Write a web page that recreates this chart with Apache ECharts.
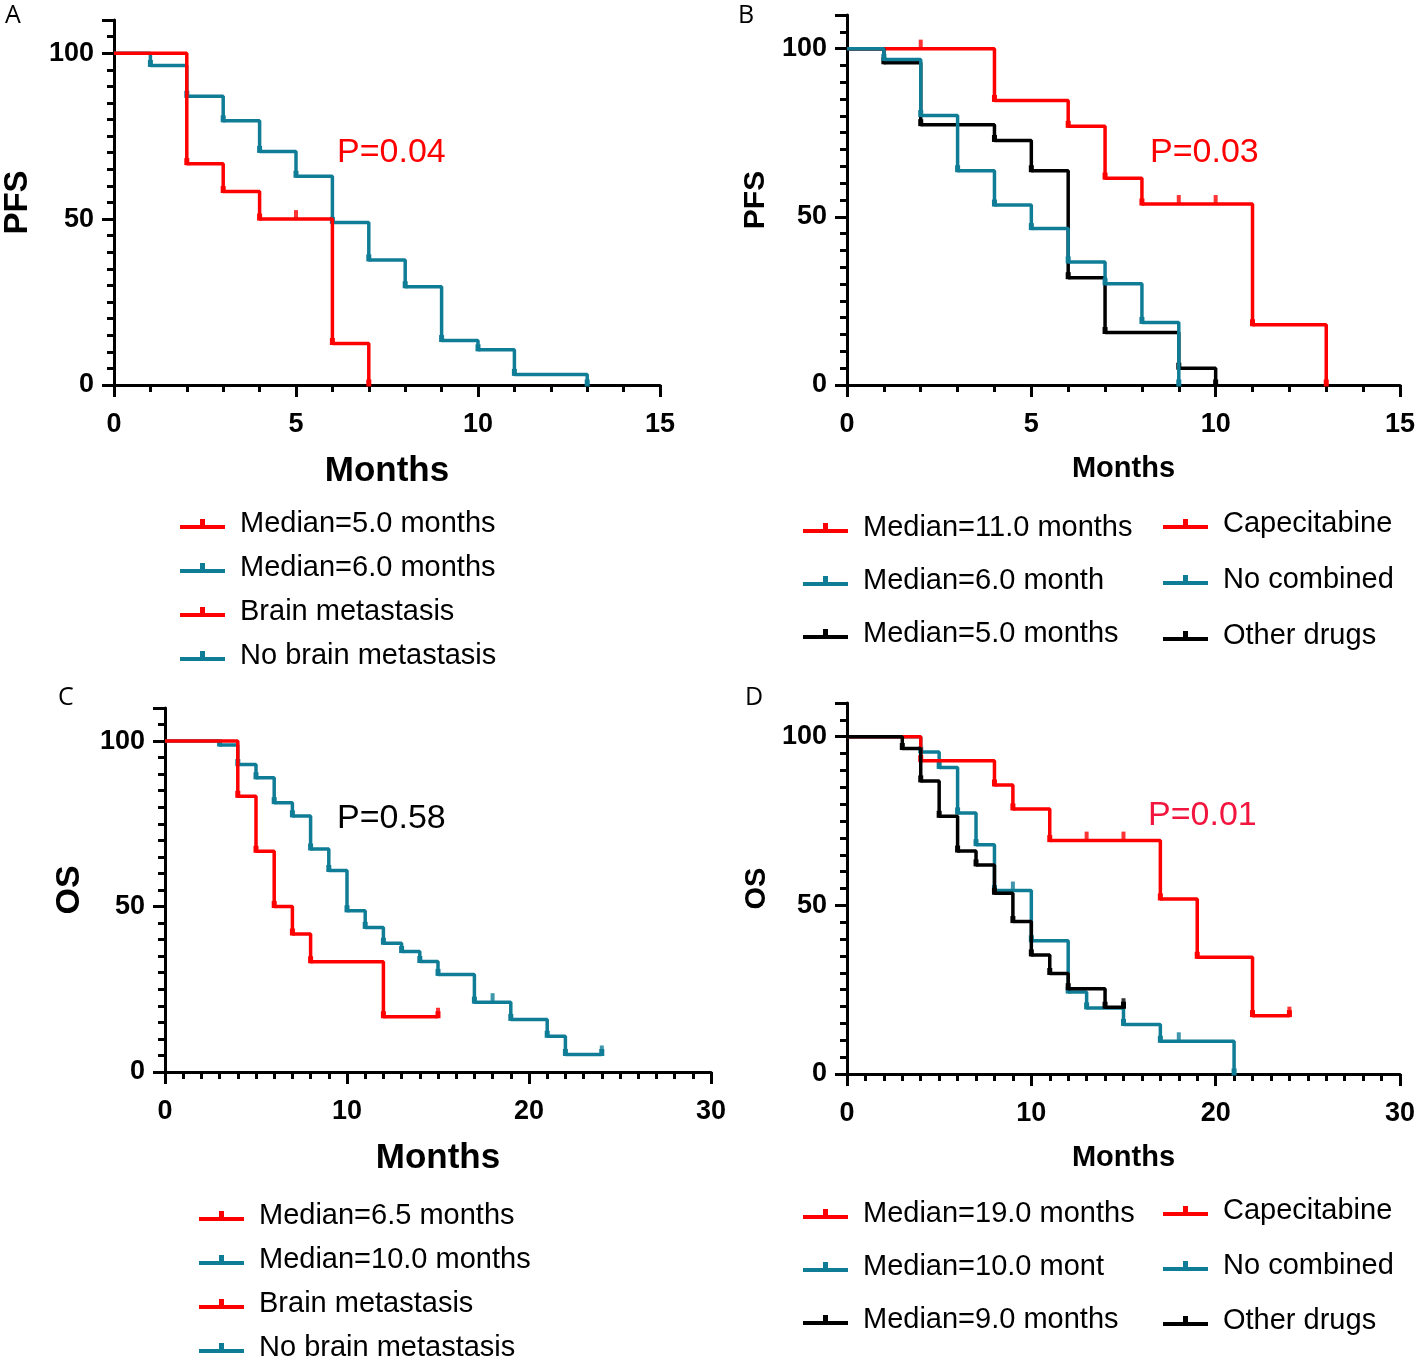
<!DOCTYPE html>
<html>
<head>
<meta charset="utf-8">
<title>PFS / OS</title>
<script src="https://cdn.jsdelivr.net/npm/echarts@6.0.0/dist/echarts.min.js"></script>
<style>
  html, body { margin: 0; padding: 0; background: #fff; }
  #main { width: 1418px; height: 1360px; }
</style>
</head>
<body>
<div id="main"></div>
<script type="text/javascript">
// ---- data: [month, percent surviving] at each step, censored marks separately ----
// A: PFS by brain metastasis
var pfsBrain = [[0, 100], [2, 66.7], [3, 58.3], [4, 50], [6, 12.5], [7, 0]];
var pfsBrainCens = [[5, 50]];
var pfsNoBrain = [[0, 100], [1, 96.3], [2, 87], [3, 79.6], [4, 70.4], [5, 62.9], [6, 49], [7, 37.7], [8, 29.6], [9, 13.4], [10, 10.6], [11, 3.2], [13, 0]];
// B: PFS by combined drug
var pfsCape = [[0, 100], [4, 84.6], [6, 76.9], [7, 61.5], [8, 53.8], [11, 17.9], [13, 0]];
var pfsCapeCens = [[2, 100], [9, 53.8], [10, 53.8]];
var pfsNoComb = [[0, 100], [1, 96.8], [2, 80.1], [3, 63.7], [4, 53.5], [5, 46.5], [6, 36.6], [7, 30.1], [8, 18.6], [9, 0]];
var pfsOther = [[0, 100], [1, 95.8], [2, 77.4], [4, 72.7], [5, 63.7], [6, 31.9], [7, 15.6], [9, 5], [10, 0]];
// C: OS by brain metastasis
var osBrain = [[0, 100], [4, 83.3], [5, 66.7], [6, 50], [7, 41.7], [8, 33.3], [12, 16.7], [15, 16.7]];
var osBrainCens = [[15, 16.7]];
var osNoBrain = [[0, 100], [3, 98.8], [4, 92.9], [5, 88.9], [6, 81.4], [7, 77.4], [8, 67.4], [9, 60.9], [10, 48.7], [11, 43.7], [12, 38.9], [13, 36.4], [14, 33.4], [15, 29.5], [17, 21.1], [19, 15.9], [21, 10.8], [22, 5.3], [24, 5.3]];
var osNoBrainCens = [[18, 21.1], [24, 5.3]];
// D: OS by combined drug
var osCape = [[0, 100], [4, 92.9], [8, 85.7], [9, 78.6], [11, 69.2], [17, 51.9], [19, 34.6], [22, 17.3], [24, 17.3]];
var osCapeCens = [[13, 69.2], [15, 69.2], [24, 17.3]];
var osNoComb = [[0, 100], [4, 95.5], [5, 90.9], [6, 77.4], [7, 68], [8, 54.4], [10, 39.5], [12, 24.3], [13, 19.6], [15, 14.7], [17, 9.7], [21, 0]];
var osNoCombCens = [[9, 54.4], [18, 9.7]];
var osOther = [[0, 100], [3, 96.5], [4, 86.9], [5, 76.4], [6, 66.1], [7, 62], [8, 53.6], [9, 45.2], [10, 35.3], [11, 29.8], [12, 25.3], [14, 19.8], [15, 19.8]];
var osOtherCens = [[15, 19.8]];

var pValues = ['P=0.04', 'P=0.03', 'P=0.58', 'P=0.01'];
var legendA = ['Median=5.0 months', 'Median=6.0 months', 'Brain metastasis', 'No brain metastasis'];
var legendB1 = ['Median=11.0 months', 'Median=6.0 month', 'Median=5.0 months'];
var legendB2 = ['Capecitabine', 'No combined', 'Other drugs'];
var legendC = ['Median=6.5 months', 'Median=10.0 months', 'Brain metastasis', 'No brain metastasis'];
var legendD1 = ['Median=19.0 months', 'Median=10.0 mont', 'Median=9.0 months'];
var legendD2 = ['Capecitabine', 'No combined', 'Other drugs'];

var RED = '#ff0000', TEAL = '#107d97', BLACK = '#000000';
var FONT = '"Liberation Sans", Arial, sans-serif';

var myChart = echarts.init(document.getElementById('main'));

function xAxis(gi, max, interval, minor, nameSize) {
    return {
        gridIndex: gi, type: 'value', min: 0, max: max, interval: interval,
        name: 'Months', nameLocation: 'middle', nameGap: 69,
        nameTextStyle: { fontFamily: FONT, fontWeight: 'bold', fontSize: nameSize, color: '#000' },
        axisLine: { lineStyle: { color: '#000', width: 3 } },
        axisTick: { length: 12, lineStyle: { width: 3, color: '#000' } },
        minorTick: { show: true, splitNumber: minor, length: 7, lineStyle: { width: 3, color: '#000' } },
        splitLine: { show: false },
        axisLabel: { margin: 26, fontFamily: FONT, fontWeight: 'bold', fontSize: 27, color: '#000' }
    };
}

function yAxis(gi, name, nameSize, gap) {
    return {
        gridIndex: gi, type: 'value', min: 0, max: 110, interval: 50,
        name: name, nameLocation: 'middle', nameRotate: 90, nameGap: gap,
        nameTextStyle: { fontFamily: FONT, fontWeight: 'bold', fontSize: nameSize, color: '#000' },
        axisLine: { show: true, lineStyle: { color: '#000', width: 3 } },
        axisTick: { show: true, length: 12, lineStyle: { width: 3, color: '#000' } },
        minorTick: { show: true, splitNumber: 10, length: 7, lineStyle: { width: 3, color: '#000' } },
        splitLine: { show: false },
        axisLabel: { margin: 20, showMaxLabel: false, fontFamily: FONT, fontWeight: 'bold', fontSize: 27, color: '#000' }
    };
}

function curve(gi, name, data, color, z) {
    return {
        type: 'line', name: name, xAxisIndex: gi, yAxisIndex: gi, step: 'end', data: data,
        symbol: function (v, p) { return p.dataIndex === 0 ? 'none' : 'rect'; },
        symbolSize: [5, 7], symbolOffset: [0, -2],
        lineStyle: { color: color, width: 3.5 }, itemStyle: { color: color },
        z: z, silent: true
    };
}

function censor(gi, data, color, z) {
    return {
        type: 'scatter', name: 'censored', xAxisIndex: gi, yAxisIndex: gi, data: data,
        symbol: 'rect', symbolSize: [4, 10], symbolOffset: [0, -4],
        itemStyle: { color: color }, z: z, silent: true
    };
}

function dummy(gi, name, color) {
    return { type: 'line', name: name, xAxisIndex: gi, yAxisIndex: gi, data: [], itemStyle: { color: color }, lineStyle: { color: color } };
}

var ICON = 'path://M0,6L45,6L45,10L0,10Z M20,0L25,0L25,6L20,6Z';

function legend(names, colors, left, top, gap) {
    return {
        orient: 'vertical', left: left - 5, top: top, height: 200, itemGap: gap, selectedMode: false,
        icon: ICON, itemWidth: 45, itemHeight: 10,
        textStyle: { fontFamily: FONT, fontSize: 29, color: '#000', lineHeight: 30, padding: [0, 0, 0, 10] },
        data: names.map(function (n, i) { return { name: n, itemStyle: { color: colors[i] } }; })
    };
}

function label(text, x, y, size, color, family) {
    return {
        type: 'text', x: x, y: y,
        style: { text: text, fill: color, font: size + 'px ' + (family || FONT), verticalAlign: 'middle' }
    };
}

var option = {
    animation: false,
    backgroundColor: '#fff',
    grid: [
        { left: 111, top: 20, width: 549, height: 365 },
        { left: 847, top: 15, width: 554, height: 370 },
        { left: 165, top: 708, width: 546, height: 364 },
        { left: 847, top: 703, width: 554, height: 371 }
    ],
    xAxis: [
        xAxis(0, 15, 5, 5, 35),
        xAxis(1, 15, 5, 5, 29),
        xAxis(2, 30, 10, 10, 35),
        xAxis(3, 30, 10, 10, 29)
    ],
    yAxis: [
        yAxis(0, 'PFS', 33, 80),
        yAxis(1, 'PFS', 30, 76),
        yAxis(2, 'OS', 34, 78),
        yAxis(3, 'OS', 29, 76)
    ],
    legend: [
        legend(legendA, [RED, TEAL, RED, TEAL], 180, 504, 14),
        legend(legendB1, [RED, TEAL, BLACK], 803, 508, 23),
        legend(legendB2, [RED, TEAL, BLACK], 1163, 504, 26),
        legend(legendC, [RED, TEAL, RED, TEAL], 199, 1196, 14),
        legend(legendD1, [RED, TEAL, BLACK], 803, 1194, 23),
        legend(legendD2, [RED, TEAL, BLACK], 1163, 1191, 25)
    ],
    graphic: [
        label('A', 5, 16, 25, '#000', '"Open Sans", sans-serif'),
        label('B', 738, 16, 25, '#000', '"Open Sans", sans-serif'),
        label('C', 58, 698, 25, '#000', '"Open Sans", sans-serif'),
        label('D', 745, 698, 25, '#000', '"Open Sans", sans-serif'),
        label(pValues[0], 337, 153, 34, RED),
        label(pValues[1], 1150, 153, 34, RED),
        label(pValues[2], 337, 819, 34, '#000'),
        label(pValues[3], 1148, 816, 34, '#f2163e')
    ],
    series: [
        // A
        curve(0, 'No brain metastasis', pfsNoBrain, TEAL, 2),
        curve(0, 'Brain metastasis', pfsBrain, RED, 3),
        censor(0, pfsBrainCens, RED, 3),
        dummy(0, 'Median=5.0 months', RED),
        dummy(0, 'Median=6.0 months', TEAL),
        // B
        curve(1, 'Capecitabine', pfsCape, RED, 2),
        censor(1, pfsCapeCens, RED, 2),
        curve(1, 'Other drugs', pfsOther, BLACK, 3),
        curve(1, 'No combined', pfsNoComb, TEAL, 4),
        dummy(1, 'Median=11.0 months', RED),
        dummy(1, 'Median=6.0 month', TEAL),
        // C
        curve(2, 'No brain metastasis', osNoBrain, TEAL, 2),
        censor(2, osNoBrainCens, TEAL, 2),
        curve(2, 'Brain metastasis', osBrain, RED, 3),
        censor(2, osBrainCens, RED, 3),
        dummy(2, 'Median=6.5 months', RED),
        dummy(2, 'Median=10.0 months', TEAL),
        // D
        curve(3, 'No combined', osNoComb, TEAL, 2),
        censor(3, osNoCombCens, TEAL, 2),
        curve(3, 'Capecitabine', osCape, RED, 3),
        censor(3, osCapeCens, RED, 3),
        curve(3, 'Other drugs', osOther, BLACK, 4),
        censor(3, osOtherCens, BLACK, 4),
        dummy(3, 'Median=19.0 months', RED),
        dummy(3, 'Median=10.0 mont', TEAL),
        dummy(3, 'Median=9.0 months', BLACK)
    ]
};

myChart.setOption(option);
</script>
</body>
</html>
